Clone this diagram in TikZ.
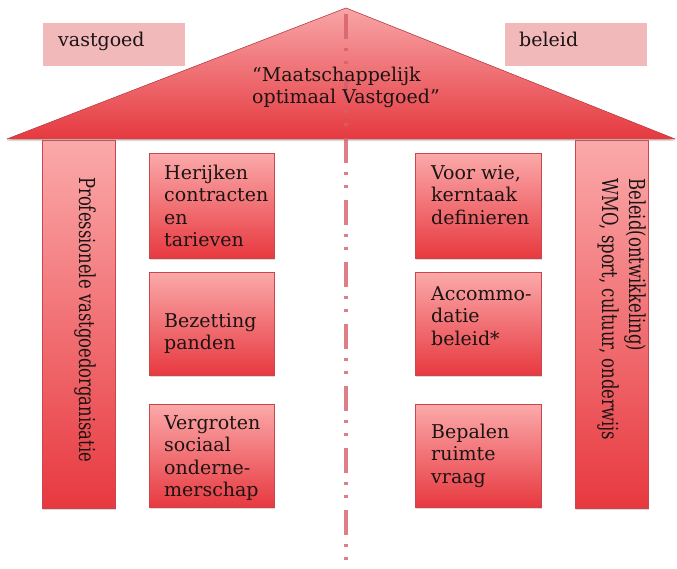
\documentclass[tikz,border=0pt]{standalone}
\usepackage{fontspec}
\setmainfont{DejaVu Serif}
\usetikzlibrary{shadows}
\definecolor{boxtop}{HTML}{FBA9AA}
\definecolor{boxbot}{HTML}{E7393F}
\definecolor{boxline}{HTML}{C9474C}
\definecolor{rooftop}{HTML}{F8A5A7}
\definecolor{roofbot}{HTML}{E5393F}
\definecolor{labelpink}{HTML}{F2B9BB}
\definecolor{dashred}{HTML}{D65F69}
\definecolor{ink}{HTML}{1C1414}
\newcommand{\lines}[1]{\begin{tabular}[t]{@{}l@{}}#1\end{tabular}}
\begin{document}
\begin{tikzpicture}[x=1pt,y=-1pt,
  box/.style={draw=boxline, line width=0.7pt, top color=boxtop, bottom color=boxbot,
    drop shadow={shadow xshift=1pt,shadow yshift=-2pt,opacity=0.3},
    rectangle, inner sep=0pt, anchor=north west},
  labelbox/.style={fill=labelpink, rectangle, inner sep=0pt, anchor=north west,
    minimum width=142pt, minimum height=43pt},
  txt/.style={font=\fontsize{19}{22.5}\selectfont, inner sep=0pt,
    anchor=base west, text=ink},
  vtxt/.style={font=\fontsize{22}{27}\selectfont, inner sep=0pt,
    anchor=base west, rotate=-90, text=ink},
  centreline/.style={dashred, line width=3.5pt,
    dash pattern=on 25pt off 9pt on 3pt off 10pt on 3pt off 12pt, dash phase=56pt}
]
\useasboundingbox (0,0) rectangle (677,568);

% labels
\node[labelbox] (lv) at (43,23) {};
\node[txt] (lvt) at (58,46) {vastgoed};
\node[labelbox] (lb) at (505,23) {};
\node[txt] (lbt) at (519,46) {beleid};

% pillars
\node[box, minimum width=73pt, minimum height=368pt] (pl) at (42,140) {};
\node[box, minimum width=73pt, minimum height=368pt] (pr) at (575,140) {};

% roof
\coordinate (apex) at (346,8);
\coordinate (rl) at (7,139);
\coordinate (rr) at (675,139);
\fill[drop shadow={shadow xshift=0pt,shadow yshift=-2pt,opacity=0.3},
  top color=rooftop, bottom color=roofbot] (rl) -- (apex) -- (rr) -- cycle;
\draw[boxline, line width=0.6pt] (rl) -- (apex) -- (rr);

% centre line
\coordinate (cbot) at (346,568);
\draw[centreline, opacity=0.8] (apex) -- (cbot);

% roof text
\node[txt] (roof) at (252,81) {\lines{“Maatschappelijk\\optimaal Vastgoed”}};

% boxes left
\node[box, minimum width=125pt, minimum height=105pt] (b1) at (149,153) {};
\node[box, minimum width=125pt, minimum height=103pt] (b2) at (149,272) {};
\node[box, minimum width=125pt, minimum height=103pt] (b3) at (149,404) {};
% boxes right
\node[box, minimum width=126pt, minimum height=105pt] (c1) at (415,153) {};
\node[box, minimum width=126pt, minimum height=103pt] (c2) at (415,272) {};
\node[box, minimum width=126pt, minimum height=103pt] (c3) at (415,404) {};

\node[txt] (t1) at (164,179) {\lines{Herijken\\contracten\\en\\tarieven}};
\node[txt] (t2) at (164,327) {\lines{Bezetting\\panden}};
\node[txt] (t3) at (164,429) {\lines{Vergroten\\sociaal\\onderne-\\merschap}};
\node[txt] (u1) at (431,179) {\lines{Voor wie,\\kerntaak\\definieren}};
\node[txt] (u2) at (431,300) {\lines{Accommo-\\datie\\beleid*}};
\node[txt] (u3) at (431,438) {\lines{Bepalen\\ruimte\\vraag}};

% pillar texts
\node[vtxt] (plt) at (79,177) {\resizebox{285pt}{\height}{Professionele vastgoedorganisatie}};
\node[vtxt] (prt) at (629,178) {\lines{\resizebox{173pt}{\height}{Beleid(ontwikkeling)}\\\resizebox{262pt}{\height}{WMO, sport, cultuur, onderwijs}}};
\end{tikzpicture}
\end{document}
